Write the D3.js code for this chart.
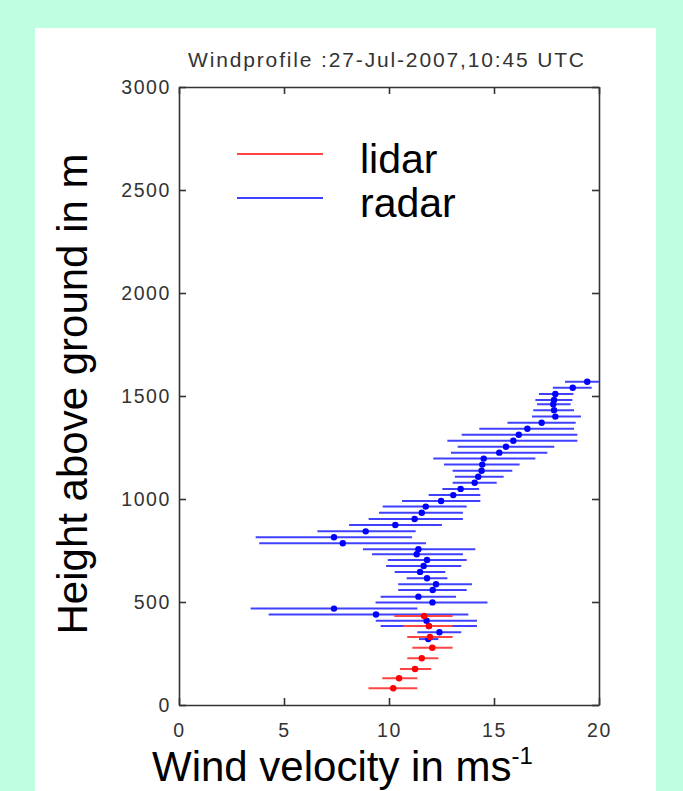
<!DOCTYPE html>
<html>
<head>
<meta charset="utf-8">
<script src="https://cdn.jsdelivr.net/npm/d3@7"></script>
<style>
  body { margin: 0; background: #bffee1; }
  svg { display: block; }
  .tick text { font-family: "Liberation Sans", Arial, sans-serif; font-size: 19.5px; fill: #333; letter-spacing: 1.6px; }
  .domain, .tick line { stroke: #333; stroke-width: 1.6; }
</style>
</head>
<body>
<svg width="683" height="791"></svg>
<script>
// radar profile (height m, speed, error bar low/high)
const radarHeight = [1569, 1540, 1510, 1481, 1460, 1431, 1400, 1370, 1341, 1312, 1283, 1254, 1225, 1196, 1167,
  1137, 1108, 1079, 1049, 1019, 990, 963, 933, 903, 874, 843, 814, 785, 756, 732, 704, 675, 646, 615, 586,
  558, 526, 498, 468, 439, 409, 383, 353, 320];
const radarSpeed = [19.44, 18.75, 17.92, 17.86, 17.82, 17.86, 17.92, 17.27, 16.59, 16.18, 15.92, 15.57, 15.25, 14.51, 14.44,
  14.41, 14.25, 14.08, 13.41, 13.06, 12.48, 11.75, 11.56, 11.22, 10.30, 8.89, 7.38, 7.80, 11.40, 11.32, 11.81, 11.65, 11.48, 11.81, 12.24,
  12.08, 11.40, 12.07, 7.38, 9.38, 11.79, 11.90, 12.40, 11.87];
const radarLow = [18.38, 17.80, 17.14, 16.97, 17.05, 16.87, 16.81, 15.64, 14.30, 13.46, 12.78, 13.27, 12.95, 12.11, 12.62,
  13.03, 13.14, 13.03, 12.54, 11.89, 10.62, 9.70, 9.52, 9.03, 8.10, 6.59, 3.65, 3.82, 8.76, 9.19, 9.94, 9.86, 10.27, 10.84, 10.44,
  10.44, 9.60, 9.36, 3.41, 4.27, 9.37, 9.60, 11.35, 11.43];
const radarHigh = [20.0, 19.65, 18.78, 18.73, 18.65, 18.81, 19.14, 18.89, 18.81, 18.97, 18.97, 17.87, 17.54, 16.97, 16.22,
  15.87, 15.46, 15.13, 14.29, 14.35, 14.35, 13.70, 13.52, 13.52, 12.52, 11.27, 11.10, 11.76, 14.11, 13.52, 13.70, 13.44, 12.68, 12.78, 13.95,
  13.70, 13.19, 14.69, 11.35, 13.78, 14.19, 14.19, 13.44, 12.35];

// lidar profile
const lidarHeight = [432, 383, 330, 278, 227, 175, 130, 81];
const lidarSpeed = [11.67, 11.90, 11.95, 12.06, 11.56, 11.24, 10.48, 10.20];
const lidarLow = [10.25, 10.68, 10.87, 11.11, 10.87, 10.52, 9.68, 9.02];
const lidarHigh = [13.03, 13.03, 13.03, 13.03, 12.35, 12.01, 11.35, 11.35];

const xTicks = [0, 5, 10, 15, 20];
const yTicks = [0, 500, 1000, 1500, 2000, 2500, 3000];
const series = ["lidar", "radar"];
const seriesColor = { lidar: "#ff0000", radar: "#0000ff" };
const barColor = { lidar: "#ff4444", radar: "#4040ff" };

const svg = d3.select("svg");
const font = '"Liberation Sans", Arial, sans-serif';

// white panel
svg.append("rect").attr("x", 35).attr("y", 28).attr("width", 621).attr("height", 763).attr("fill", "#fff");

const x = d3.scaleLinear().domain([0, 20]).range([179, 599]);
const y = d3.scaleLinear().domain([0, 3000]).range([705, 87]);

// axes with inward ticks (box style)
svg.append("g").attr("transform", `translate(0,${y(0)})`)
  .call(d3.axisBottom(x).tickValues(xTicks).tickSize(-7).tickSizeOuter(0).tickPadding(18).tickFormat(d3.format("d")));
svg.append("g").attr("transform", `translate(0,${y(3000)})`)
  .call(d3.axisTop(x).tickValues(xTicks).tickSize(-7).tickSizeOuter(0).tickFormat(""));
svg.append("g").attr("transform", `translate(${x(0)},0)`)
  .call(d3.axisLeft(y).tickValues(yTicks).tickSize(-7).tickSizeOuter(0).tickPadding(8).tickFormat(d3.format("d")));
svg.append("g").attr("transform", `translate(${x(20)},0)`)
  .call(d3.axisRight(y).tickValues(yTicks).tickSize(-7).tickSizeOuter(0).tickFormat(""));

svg.append("clipPath").attr("id", "plot")
  .append("rect").attr("x", x(0)).attr("y", y(3000)).attr("width", x(20) - x(0)).attr("height", y(0) - y(3000));

const plot = svg.append("g").attr("clip-path", "url(#plot)");

function drawProfile(name, hs, vs, lo, hi) {
  const rows = hs.map((h, i) => ({ h, v: vs[i], lo: lo[i], hi: hi[i] }));
  const g = plot.append("g");
  g.selectAll("line").data(rows).join("line")
    .attr("x1", d => x(d.lo)).attr("x2", d => x(d.hi))
    .attr("y1", d => y(d.h)).attr("y2", d => y(d.h))
    .attr("stroke", barColor[name]).attr("stroke-width", 2);
  g.selectAll("circle").data(rows).join("circle")
    .attr("cx", d => x(d.v)).attr("cy", d => y(d.h)).attr("r", 3.2)
    .attr("fill", seriesColor[name]);
}
drawProfile("radar", radarHeight, radarSpeed, radarLow, radarHigh);
drawProfile("lidar", lidarHeight, lidarSpeed, lidarLow, lidarHigh);

// legend
const leg = svg.append("g").selectAll("g").data(series).join("g")
  .attr("transform", (d, i) => `translate(0,${154 + i * 44})`);
leg.append("line").attr("x1", 237).attr("x2", 323)
  .attr("stroke", d => barColor[d]).attr("stroke-width", 2);
leg.append("text").attr("x", 360).attr("y", 19).text(d => d)
  .attr("font-family", font).attr("font-size", 41).attr("fill", "#000");

// title
svg.append("text").attr("x", 188).attr("y", 67)
  .attr("textLength", 396).attr("lengthAdjust", "spacing")
  .attr("font-family", font).attr("font-size", 21).attr("fill", "#333")
  .text("Windprofile :27-Jul-2007,10:45 UTC");

// axis labels
svg.append("text").attr("transform", "translate(87,394) rotate(-90)")
  .attr("text-anchor", "middle").attr("font-family", font).attr("font-size", 42).attr("fill", "#000")
  .text("Height above ground in m");

const xl = svg.append("text").attr("x", 152).attr("y", 781)
  .attr("font-family", font).attr("font-size", 42).attr("fill", "#000");
xl.append("tspan").text("Wind velocity in ms");
xl.append("tspan").attr("dy", -17).attr("font-size", 24).text("-1");
</script>
</body>
</html>
